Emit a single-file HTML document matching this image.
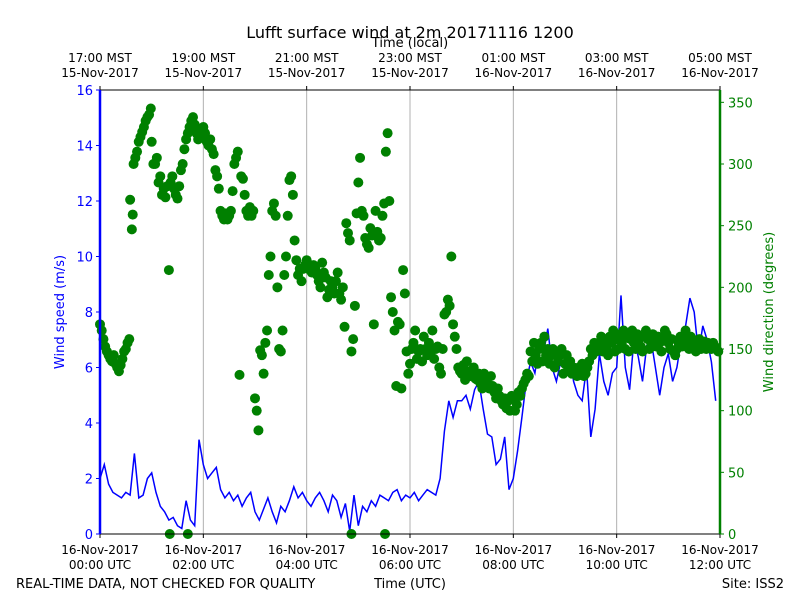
<!DOCTYPE html>
<html><head><meta charset="utf-8"><style>
body{margin:0;background:#fff;width:800px;height:600px;overflow:hidden}
svg text{font-family:"DejaVu Sans","Liberation Sans",sans-serif}
</style></head><body>
<svg id="chart" width="800" height="600" viewBox="0 0 800 600" xmlns="http://www.w3.org/2000/svg">
<rect x="0" y="0" width="800" height="600" fill="#fff"/>
<text x="410" y="38" font-size="16" text-anchor="middle">Lufft surface wind at 2m 20171116 1200</text>
<text x="410" y="47" font-size="13" text-anchor="middle">Time (local)</text>
<text transform="translate(64,312) rotate(-90)" font-size="13" fill="#0000ff" text-anchor="middle">Wind speed (m/s)</text>
<text transform="translate(773,312) rotate(-90)" font-size="13" fill="#008000" text-anchor="middle">Wind direction (degrees)</text>
<text x="16" y="588" font-size="13">REAL-TIME DATA, NOT CHECKED FOR QUALITY</text>
<text x="410" y="588" font-size="13" text-anchor="middle">Time (UTC)</text>
<text x="784" y="588" font-size="13" text-anchor="end">Site: ISS2</text>
<g id="grid"></g><g id="speed"></g><g id="dir"></g><g id="axes"></g>
</svg>
<script>
const speedStepMin = 5;
const speedValues = [
2.0,2.5,1.8,1.5,1.4,1.3,1.5,1.4,2.9,1.3,1.4,2.0,
2.2,1.5,1.0,0.8,0.5,0.6,0.3,0.2,1.2,0.5,0.3,3.4,
2.5,2.0,2.2,2.4,1.6,1.3,1.5,1.2,1.4,1.0,1.3,1.5,
0.8,0.5,0.9,1.3,0.8,0.4,1.0,0.8,1.2,1.7,1.3,1.5,
1.2,1.0,1.3,1.5,1.2,0.8,1.4,1.2,0.6,1.1,0.1,1.4,
0.3,1.0,0.8,1.2,1.0,1.4,1.3,1.2,1.5,1.6,1.2,1.4,
1.3,1.5,1.2,1.4,1.6,1.5,1.4,2.0,3.7,4.8,4.2,4.8,
4.8,5.0,4.5,5.2,5.5,4.5,3.6,3.5,2.5,2.7,3.5,1.6,
2.0,3.0,4.2,5.5,6.2,5.8,6.8,6.5,7.4,6.0,5.5,6.2,
6.0,6.5,5.5,5.0,4.8,6.0,3.5,4.5,6.5,5.5,5.0,5.8,
6.0,8.6,6.0,5.2,7.0,6.4,5.5,6.8,7.0,6.0,5.0,6.0,
6.5,5.5,6.0,7.0,7.5,8.5,8.0,6.5,7.5,7.0,6.2,4.8];
const dirMinutes = [0,2,4,6,8,10,12,14,16,18,20,22,24,26,28,30,32,34,35,37,38,39,41,43,45,47,49,51,53,55,57,59,60,62,64,66,68,70,72,74,76,78,80,82,84,86,88,90,92,94,96,98,100,102,104,106,108,110,112,114,116,118,120,122,124,126,128,130,132,134,136,138,140,142,144,146,148,150,152,154,156,158,160,162,164,166,168,170,172,174,176,178,180,182,184,186,188,190,192,194,196,198,200,202,204,206,208,210,212,214,216,218,220,222,224,226,228,230,232,234,236,238,240,242,244,246,248,250,252,254,256,258,260,262,264,266,268,270,272,274,276,278,280,282,284,286,288,290,292,294,296,298,300,302,304,306,308,310,312,314,316,318,320,322,324,326,328,330,332,334,336,338,340,342,344,346,348,350,352,354,356,358,360,362,364,366,368,370,372,374,376,378,380,382,384,386,388,390,392,394,396,398,400,402,404,406,408,410,412,414,416,418,420,422,424,426,428,430,432,434,436,438,440,442,444,446,448,450,452,454,456,458,460,462,464,466,468,470,472,474,476,478,480,482,484,486,488,490,492,494,496,498,500,502,504,506,508,510,512,514,516,518,520,522,524,526,528,530,532,534,536,538,540,542,544,546,548,550,552,554,556,558,560,562,564,566,568,570,572,574,576,578,580,582,584,586,588,590,592,594,596,598,600,602,604,606,608,610,612,614,616,618,620,622,624,626,628,630,632,634,636,638,640,642,644,646,648,650,652,654,656,658,660,662,664,666,668,670,672,674,676,678,680,682,684,686,688,690,692,694,696,698,700,702,704,706,708,710,712,714,716,718,81,102,292,331];
const dirValues = [170,165,158,152,148,145,142,140,145,138,135,132,137,142,148,150,155,158,271,247,259,300,305,310,318,322,326,330,335,338,340,345,318,300,300,305,285,290,275,280,273,282,214,285,290,280,275,272,282,295,300,312,320,325,330,335,338,332,325,320,322,328,330,325,318,315,320,312,308,295,290,280,262,258,255,260,255,258,262,278,300,305,310,129,290,288,275,262,258,265,258,262,110,100,84,149,145,130,155,165,210,225,262,268,258,200,150,148,165,210,225,258,287,290,275,238,222,210,215,205,215,218,222,218,214,212,218,215,210,205,200,220,212,208,192,198,205,200,195,205,212,195,190,200,168,252,244,238,148,158,185,260,285,305,262,258,240,235,232,248,242,170,262,245,238,240,258,268,310,325,270,192,180,165,120,172,170,118,214,195,148,130,138,150,155,165,142,148,150,140,160,150,145,155,148,165,142,150,152,135,130,150,178,180,190,185,225,170,160,150,135,132,130,137,125,140,132,128,130,135,126,125,130,122,118,130,125,122,118,128,120,115,110,118,112,108,105,110,102,108,100,112,110,100,105,115,112,118,122,125,130,128,148,140,155,145,138,150,155,140,160,145,150,138,145,150,135,148,140,145,150,130,138,145,135,140,130,135,132,128,135,130,138,128,130,135,140,150,145,155,148,152,155,160,148,155,150,145,160,155,165,148,158,150,162,155,165,150,160,148,158,165,155,150,162,158,152,148,160,165,158,150,155,162,158,152,160,155,148,158,165,162,155,150,158,148,145,150,155,160,152,158,165,155,150,160,158,152,148,155,158,150,152,156,150,155,152,150,155,152,150,148,0,0,0,0];
const speedTicks = [0,2,4,6,8,10,12,14,16];
const dirTicks = [0,50,100,150,200,250,300,350];
const utcTickLabels = [["16-Nov-2017","00:00 UTC"],["16-Nov-2017","02:00 UTC"],["16-Nov-2017","04:00 UTC"],["16-Nov-2017","06:00 UTC"],["16-Nov-2017","08:00 UTC"],["16-Nov-2017","10:00 UTC"],["16-Nov-2017","12:00 UTC"]];
const localTickLabels = [["17:00 MST","15-Nov-2017"],["19:00 MST","15-Nov-2017"],["21:00 MST","15-Nov-2017"],["23:00 MST","15-Nov-2017"],["01:00 MST","16-Nov-2017"],["03:00 MST","16-Nov-2017"],["05:00 MST","16-Nov-2017"]];

const L=100,R=720,T=90,B=534;
const NS='http://www.w3.org/2000/svg';
const xS=m=>L+(m/720)*(R-L);
const ySpd=v=>B-(v/16)*(B-T);
const yDir=v=>B-(v/360)*(B-T);
function mk(tag,attrs,parent,txt){const e=document.createElementNS(NS,tag);for(const k in attrs)e.setAttribute(k,attrs[k]);if(txt!==undefined)e.textContent=txt;parent.appendChild(e);return e;}
const grid=document.getElementById('grid'),axes=document.getElementById('axes');
mk('rect',{x:L,y:T,width:R-L,height:B-T,fill:'none',stroke:'#000','stroke-width':1},axes);
utcTickLabels.forEach((lab,i)=>{
  const x=xS(i*120);
  if(i>0&&i<utcTickLabels.length-1){const g=mk('line',{x1:x,x2:x,y1:T,y2:B,stroke:'#b0b0b0','stroke-width':1},grid);
  
  }
  mk('line',{x1:x,x2:x,y1:B,y2:B+4,stroke:'#000'},axes);
  mk('line',{x1:x,x2:x,y1:T,y2:T-4,stroke:'#000'},axes);
  const t1=mk('text',{x:x,y:B+20,'font-size':12,'text-anchor':'middle'},axes,lab[0]);
  
  
  mk('text',{x:x,y:B+35,'font-size':12,'text-anchor':'middle'},axes,lab[1]);
  const l=localTickLabels[i];
  const t2=mk('text',{x:x,y:T-28,'font-size':12,'text-anchor':'middle'},axes,l[0]);
  
  
  mk('text',{x:x,y:T-13,'font-size':12,'text-anchor':'middle'},axes,l[1]);
});
speedTicks.forEach(v=>{const y=ySpd(v);
  mk('line',{x1:L-4,x2:L,y1:y,y2:y,stroke:'#0000ff'},axes);
  const t=mk('text',{x:L-7,y:y+5,'font-size':13,'text-anchor':'end',fill:'#0000ff'},axes,v);
  
  });
dirTicks.forEach(v=>{const y=yDir(v);
  mk('line',{x1:R,x2:R+4,y1:y,y2:y,stroke:'#008000'},axes);
  const t=mk('text',{x:R+8,y:y+5,'font-size':13,fill:'#008000'},axes,v);
  
  });
mk('line',{x1:L,x2:L,y1:T,y2:B,stroke:'#0000ff','stroke-width':2.5},axes);
mk('line',{x1:R,x2:R,y1:T,y2:B,stroke:'#008000','stroke-width':2.5},axes);
const pts=speedValues.map((v,i)=>xS(i*speedStepMin).toFixed(1)+','+ySpd(v).toFixed(1)).join(' ');
const line=mk('polyline',{points:pts,fill:'none',stroke:'#0000ff','stroke-width':1.5},document.getElementById('speed'));


const dg=document.getElementById('dir');
dirValues.forEach((v,i)=>{const c=mk('circle',{cx:xS(dirMinutes[i]),cy:yDir(v),r:5,fill:'#008000'},dg);
  
  });
</script>
</body></html>
